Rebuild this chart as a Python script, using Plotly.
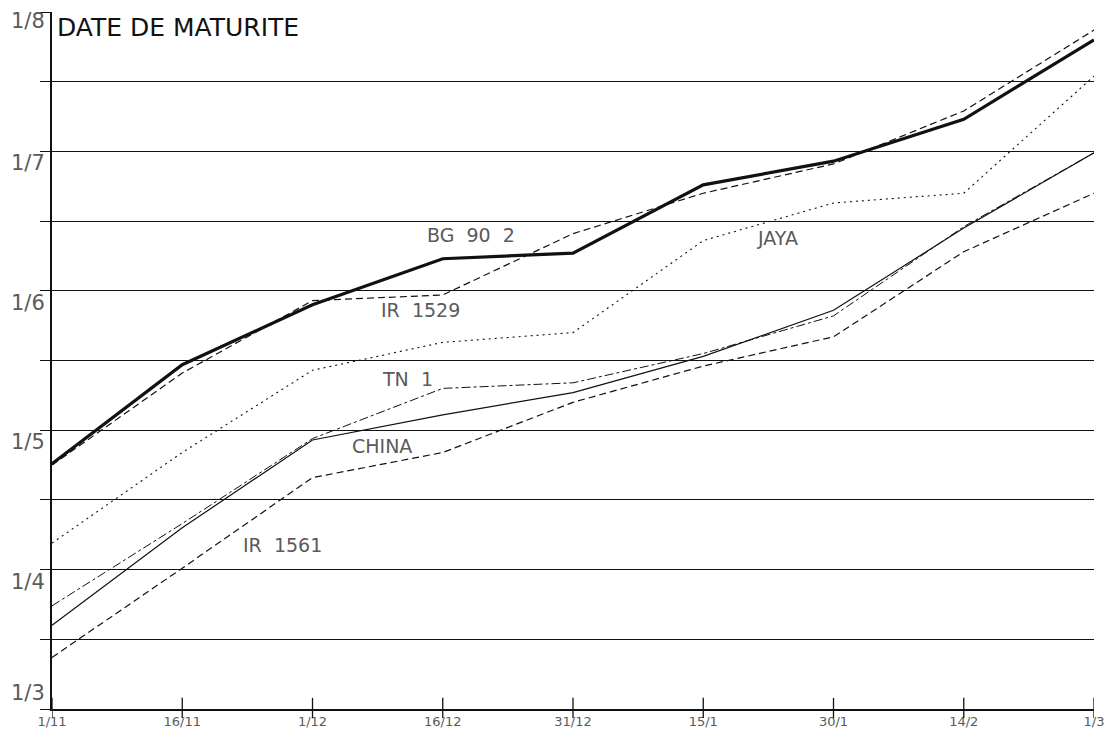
import plotly.graph_objects as go

# sowing dates (x axis, 15-day steps)
sowing_labels = ["1/11", "16/11", "1/12", "16/12", "31/12", "15/1", "30/1", "14/2", "1/3"]
sowing_idx = list(range(len(sowing_labels)))

# maturity date axis: month number (3 = 1/3 ... 8 = 1/8)
month_vals = [3, 4, 5, 6, 7, 8]
month_labels = ["1/3", "1/4", "1/5", "1/6", "1/7", "1/8"]

# maturity date per variety, in months
bg_90_2 = [4.76, 5.47, 5.90, 6.23, 6.27, 6.76, 6.93, 7.23, 7.80]
ir_1529 = [4.75, 5.41, 5.93, 5.97, 6.41, 6.70, 6.91, 7.29, 7.87]
jaya = [4.19, 4.84, 5.43, 5.63, 5.70, 6.36, 6.63, 6.70, 7.54]
tn_1 = [3.74, 4.33, 4.94, 5.30, 5.34, 5.55, 5.82, 6.46, 6.99]
china = [3.60, 4.30, 4.93, 5.11, 5.27, 5.53, 5.86, 6.45, 6.99]
ir_1561 = [3.37, 4.01, 4.66, 4.84, 5.20, 5.46, 5.67, 6.28, 6.70]

INK = "#111111"
GREY = "#5a5a5a"
FONT = "DejaVu Sans, sans-serif"

series = [
    ("BG 90 2", bg_90_2, dict(width=3.2, dash="solid")),
    ("IR 1529", ir_1529, dict(width=1.2, dash="7px,4px")),
    ("JAYA", jaya, dict(width=1.1, dash="2px,4px")),
    ("TN 1", tn_1, dict(width=1.0, dash="dashdot")),
    ("CHINA", china, dict(width=1.2, dash="solid")),
    ("IR 1561", ir_1561, dict(width=1.2, dash="7px,4px")),
]

fig = go.Figure()
for name, ys, style in series:
    fig.add_scatter(x=sowing_idx, y=ys, mode="lines", name=name,
                    line=dict(color=INK, **style), showlegend=False)

# curve labels
curve_labels = [
    ("BG  90  2", 3.22, 6.40),
    ("JAYA", 5.57, 6.38),
    ("IR  1529", 2.83, 5.86),
    ("TN  1", 2.73, 5.37),
    ("CHINA", 2.53, 4.89),
    ("IR  1561", 1.77, 4.18),
]
for txt, x, y in curve_labels:
    fig.add_annotation(x=x, y=y, text=txt.replace("  ", "\u00a0\u00a0"), showarrow=False,
                       font=dict(family=FONT, size=19, color=GREY))

fig.add_annotation(x=0.02, y=7.89, text="DATE DE MATURITE", showarrow=False,
                   xanchor="left", font=dict(family=FONT, size=25, color=INK))
fig.add_annotation(x=8.03, y=3.17, text="DATE\u00a0\u00a0DE\u00a0\u00a0SEMIS", showarrow=False,
                   xanchor="right", font=dict(family=FONT, size=19, color=GREY))

# y labels sit a little below their gridline
for v, lab in zip(month_vals, month_labels):
    shift = -12
    if lab == "1/8":
        shift = -9
    if lab == "1/3":
        shift = 16
    fig.add_annotation(x=0, xref="paper", y=v, text=lab, showarrow=False,
                       xanchor="right", xshift=-5, yshift=shift,
                       font=dict(family=FONT, size=21, color=GREY))

# tick marks crossing the sowing axis
for i in sowing_idx:
    fig.add_shape(type="line", x0=i, x1=i, xref="x", y0=-0.013, y1=0.016,
                  yref="paper", line=dict(color=INK, width=1.3))

half_months = [3 + 0.5 * k for k in range(11)]

fig.update_xaxes(range=[0, 8], tickvals=sowing_idx, ticktext=sowing_labels,
                 showgrid=False, zeroline=False, showline=True, linecolor=INK,
                 linewidth=1.5, ticks="",
                 tickfont=dict(family=FONT, size=13, color=GREY))
fig.update_yaxes(range=[3, 8], tickvals=half_months, ticktext=[""] * len(half_months),
                 showgrid=True, gridcolor=INK, gridwidth=1.4, zeroline=False,
                 showline=True, linecolor=INK, linewidth=1.5,
                 ticks="outside", ticklen=10, tickcolor=INK, tickwidth=1.4)
# page body adds 8px, so the figure is 8px smaller than the window
fig.update_layout(
    width=1105, height=732,
    margin=dict(l=44, r=19, t=4, b=31, autoexpand=False),
    plot_bgcolor="white", paper_bgcolor="white",
)

fig.write_html("out.html")
